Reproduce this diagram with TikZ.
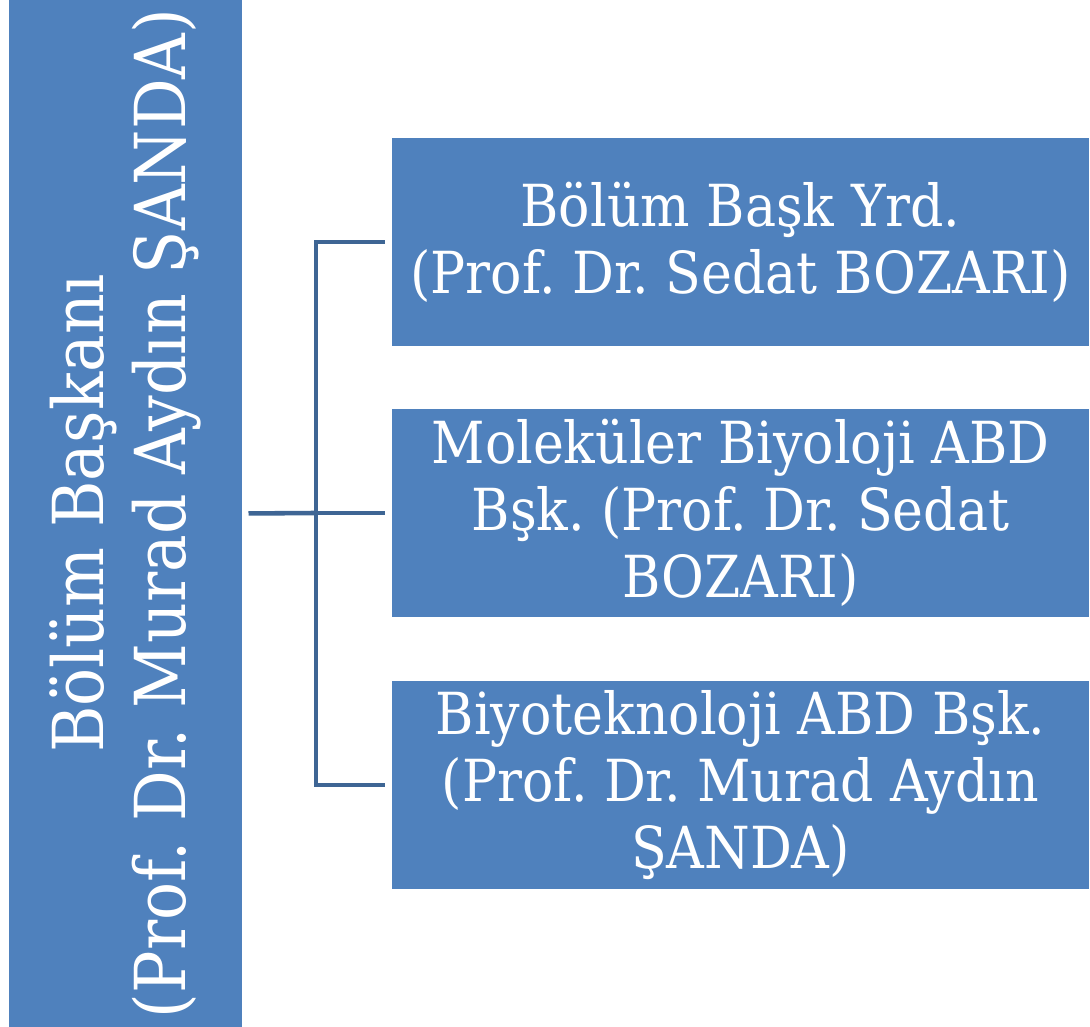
\documentclass[tikz,border=0pt]{standalone}
\usepackage{fontspec}
\setmainfont{DejaVu Serif Condensed}
\usetikzlibrary{positioning}
\definecolor{boxblue}{HTML}{4F81BD}
\definecolor{lineblue}{HTML}{3E6594}
\frenchspacing

\begin{document}
\begin{tikzpicture}[x=0.02cm, y=-0.02cm,
    box/.style={fill=boxblue, draw=white, line width=0.6pt, text=white, align=center,
        inner sep=0pt, font=\fontsize{33}{38}\selectfont},
    conn/.style={draw=lineblue, line width=2.6pt}]
    \useasboundingbox (0, 0) rectangle (1090, 1027);

    \node [box, rotate=90, minimum width=20.56cm, minimum height=4.7cm,
        font=\fontsize{40}{46.5}\selectfont] (head) at (125.5, 513.5)
        {Bölüm Başkanı\\(Prof. Dr. Murad Aydın ŞANDA)};

    \node [box, minimum width=13.98cm, minimum height=4.2cm] (yrd) at (740.5, 242)
        {Bölüm Başk Yrd.\\(Prof. Dr. Sedat BOZARI)};
    \node [box, minimum width=13.98cm, minimum height=4.2cm] (mol) at (740.5, 513)
        {Moleküler Biyoloji ABD\\Bşk. (Prof. Dr. Sedat\\BOZARI)};
    \node [box, minimum width=13.98cm, minimum height=4.2cm] (bio) at (740.5, 785)
        {Biyoteknoloji ABD Bşk.\\(Prof. Dr. Murad Aydın\\ŞANDA)};

    \coordinate (hub) at (316, 513);

    \draw [conn, shorten <=0.1cm] (head.south) -- (hub);
    \draw [conn, shorten >=0.12cm] (hub) |- (yrd.west);
    \draw [conn, shorten >=0.12cm] (hub) -- (mol.west);
    \draw [conn, shorten >=0.12cm] (hub) |- (bio.west);
\end{tikzpicture}
\end{document}
